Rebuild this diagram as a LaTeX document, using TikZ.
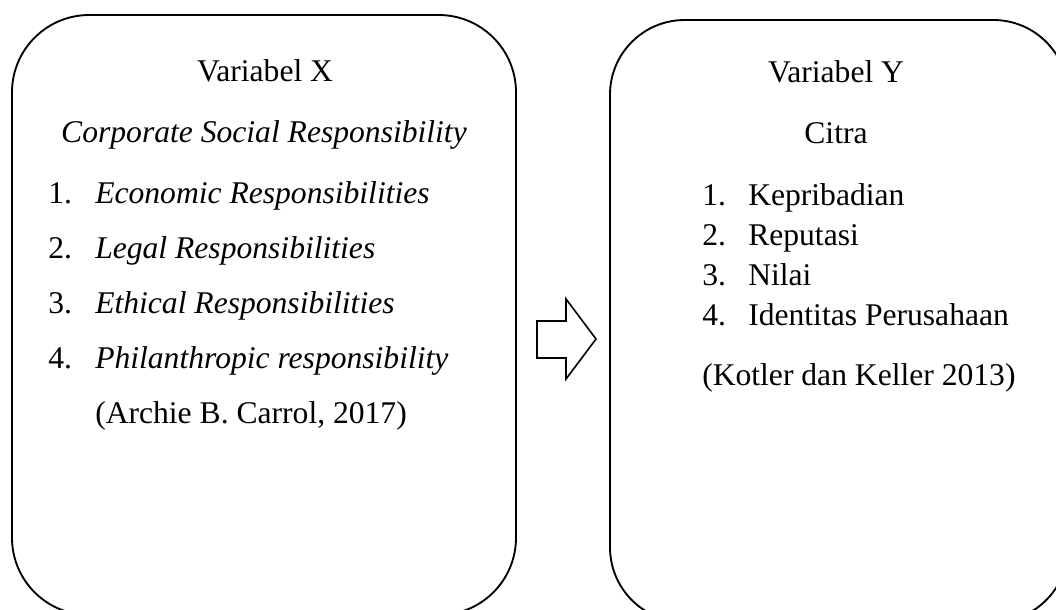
\documentclass[tikz,border=0pt]{standalone}
\usepackage{fontspec}
\setmainfont{Liberation Serif}
\begin{document}
\begin{tikzpicture}[x=0.75pt,y=-0.75pt,
  txt/.style={inner sep=0pt,font=\fontsize{23.7}{28}\selectfont},
  frame/.style={draw=black,line width=1.4pt,inner sep=0pt,outer sep=0pt}]
\useasboundingbox (0,0) rectangle (1056,610);
\clip (0,0) rectangle (1056,610);
% boxes
\node[frame,rounded corners=58pt,minimum width=378pt,minimum height=450pt] (boxX) at (264,315) {};
\node[frame,rounded corners=56pt,minimum width=343.5pt,minimum height=451.5pt] (boxY) at (839,321) {};
% arrow
\draw[line width=1.2pt,line join=miter] (537,321) -- (566,321) -- (566,299) -- (596,339) -- (566,379) -- (566,358) -- (537,358) -- cycle;
% left texts
\node[txt,anchor=base] (vx) at (265,82) {Variabel X};
\node[txt,anchor=base] (csr) at (264,142) {\itshape Corporate Social Responsibility};
\node[txt,anchor=base west] (n1) at (48,203) {1.};
\node[txt,anchor=base west] (x1) at (95,203) {\itshape Economic Responsibilities};
\node[txt,anchor=base west] (n2) at (48,258) {2.};
\node[txt,anchor=base west] (x2) at (95,258) {\itshape Legal Responsibilities};
\node[txt,anchor=base west] (n3) at (48,313) {3.};
\node[txt,anchor=base west] (x3) at (95,313) {\itshape Ethical Responsibilities};
\node[txt,anchor=base west] (n4) at (48,368) {4.};
\node[txt,anchor=base west] (x4) at (95,368) {\itshape Philanthropic responsibility};
\node[txt,anchor=base west] (srcx) at (95,423) {(Archie B. Carrol, 2017)};
% right texts
\node[txt,anchor=base] (vy) at (836,83) {Variabel Y};
\node[txt,anchor=base] (citra) at (836,143) {Citra};
\node[txt,anchor=base west] (m1) at (702,205) {1.};
\node[txt,anchor=base west] (y1) at (748,205) {Kepribadian};
\node[txt,anchor=base west] (m2) at (702,245) {2.};
\node[txt,anchor=base west] (y2) at (748,245) {Reputasi};
\node[txt,anchor=base west] (m3) at (702,285) {3.};
\node[txt,anchor=base west] (y3) at (748,285) {Nilai};
\node[txt,anchor=base west] (m4) at (702,325) {4.};
\node[txt,anchor=base west] (y4) at (748,325) {Identitas Perusahaan};
\node[txt,anchor=base west] (srcy) at (702,385) {(Kotler dan Keller 2013)};
\end{tikzpicture}
\end{document}
